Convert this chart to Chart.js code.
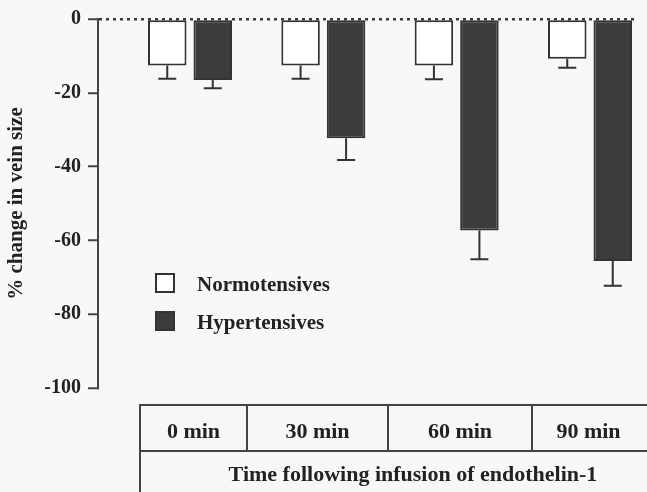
<!DOCTYPE html>
<html>
<head>
<meta charset="utf-8">
<script src="https://cdn.jsdelivr.net/npm/chart.js@4"></script>
<style>
html,body{margin:0;padding:0;background:#f8f8f6;}
#wrap{position:relative;width:647px;height:492px;overflow:hidden;font-family:"Liberation Serif","Times New Roman",serif;font-weight:bold;color:#222;}
#wrap canvas{position:absolute;left:0;top:0;}
.box{position:absolute;left:155px;width:20px;height:20px;box-sizing:border-box;border:2px solid #333;}
.legt{position:absolute;left:197px;font-size:21px;line-height:21px;white-space:nowrap;}
.hl{position:absolute;height:2px;background:#444;}
.vl{position:absolute;width:2px;background:#444;}
.cell{position:absolute;font-size:22px;line-height:22px;text-align:center;white-space:nowrap;}
</style>
</head>
<body>
<div id="wrap">
  <canvas id="c" width="647" height="492"></canvas>
  <div class="box" id="b0" style="top:273px"></div>
  <div class="legt" id="t0" style="top:274px"></div>
  <div class="box" id="b1" style="top:311px"></div>
  <div class="legt" id="t1" style="top:312px"></div>
  <div id="table"></div>
</div>
<script>
// ---- data ----
const categories = ["0 min", "30 min", "60 min", "90 min"];
const seriesNames = ["Normotensives", "Hypertensives"];
const normValues = [-12.6, -12.6, -12.6, -10.8];
const normErrors = [3.6, 3.6, 3.7, 2.4];
const hyperValues = [-16.5, -32.3, -57.3, -65.6];
const hyperErrors = [2.3, 5.9, 7.8, 6.7];
const yTicks = [0, -20, -40, -60, -80, -100];
const xTitle = "Time following infusion of endothelin-1";
const yTitle = "% change in vein size";

const normFill = "#ffffff";
const hyperFill = "#3c3c3c";
const edge = "#333333";
const FONT = '"Liberation Serif","Times New Roman",serif';

function pts(vals) { return vals.map((v, i) => ({ x: i, y: v })); }

const errorBars = {
  id: 'errorBars',
  afterDatasetsDraw(chart) {
    const ctx = chart.ctx, ys = chart.scales.y;
    chart.data.datasets.forEach((ds, i) => {
      const meta = chart.getDatasetMeta(i);
      meta.data.forEach((bar, j) => {
        const v = ds.data[j].y, e = ds.errors[j];
        const p0 = ys.getPixelForValue(v), p1 = ys.getPixelForValue(v - e);
        ctx.save();
        ctx.strokeStyle = edge; ctx.lineWidth = 2;
        ctx.beginPath();
        ctx.moveTo(bar.x, p0); ctx.lineTo(bar.x, p1);
        ctx.moveTo(bar.x - 9, p1); ctx.lineTo(bar.x + 9, p1);
        ctx.stroke();
        ctx.restore();
      });
    });
  }
};

new Chart(document.getElementById('c'), {
  type: 'bar',
  data: {
    datasets: [
      { label: seriesNames[0], data: pts(normValues), errors: normErrors,
        backgroundColor: normFill, borderColor: edge, borderWidth: 2, borderSkipped: false },
      { label: seriesNames[1], data: pts(hyperValues), errors: hyperErrors,
        backgroundColor: hyperFill, borderColor: edge, borderWidth: 2, borderSkipped: false }
    ]
  },
  options: {
    responsive: false,
    animation: false,
    devicePixelRatio: 1,
    categoryPercentage: 0.6825,
    barPercentage: 0.846,
    layout: { padding: { top: 18, bottom: 104, left: 0, right: 13 } },
    plugins: { legend: { display: false }, tooltip: { enabled: false } },
    scales: {
      x: {
        type: 'linear', offset: false, display: false,
        min: -0.69, max: 3.33,
        afterBuildTicks(s) { s.ticks = categories.map((c, i) => ({ value: i })); }
      },
      y: {
        min: -100, max: 0,
        afterFit(s) { s.width = 98; },
        afterBuildTicks(s) { s.ticks = yTicks.map(v => ({ value: v })); },
        ticks: {
          color: '#222', padding: 7,
          font: { family: FONT, size: 20, weight: 'bold' }
        },
        grid: {
          drawTicks: true, tickLength: 10, tickWidth: 2, tickColor: '#444',
          lineWidth: 2.5,
          color: c => (c.tick && c.tick.value === 0) ? '#3a3a3a' : 'rgba(0,0,0,0)'
        },
        border: { display: true, color: '#444', width: 2, dash: [3, 4] },
        title: {
          display: true, text: yTitle, color: '#222',
          font: { family: FONT, size: 21, weight: 'bold' },
          padding: { top: 4, bottom: 0 }
        }
      }
    }
  },
  plugins: [errorBars]
});

// legend
document.getElementById('b0').style.background = normFill;
document.getElementById('b1').style.background = hyperFill;
document.getElementById('t0').textContent = seriesNames[0];
document.getElementById('t1').textContent = seriesNames[1];

// category table below the axis
const table = document.getElementById('table');
const colEdges = [140, 247, 388, 532, 645];
function add(cls, style, text) {
  const d = document.createElement('div');
  d.className = cls; d.setAttribute('style', style);
  if (text) d.textContent = text;
  table.appendChild(d);
}
add('hl', 'left:139px;top:404px;width:508px;');
add('hl', 'left:139px;top:450px;width:508px;');
add('vl', 'left:139px;top:404px;height:88px;');
for (let k = 1; k < colEdges.length - 1; k++) add('vl', `left:${colEdges[k] - 1}px;top:404px;height:47px;`);
categories.forEach((c, k) => {
  add('cell', `left:${colEdges[k]}px;width:${colEdges[k + 1] - colEdges[k]}px;top:420px;`, c);
});
add('cell', 'left:140px;width:546px;top:463px;', xTitle);
</script>
</body>
</html>
